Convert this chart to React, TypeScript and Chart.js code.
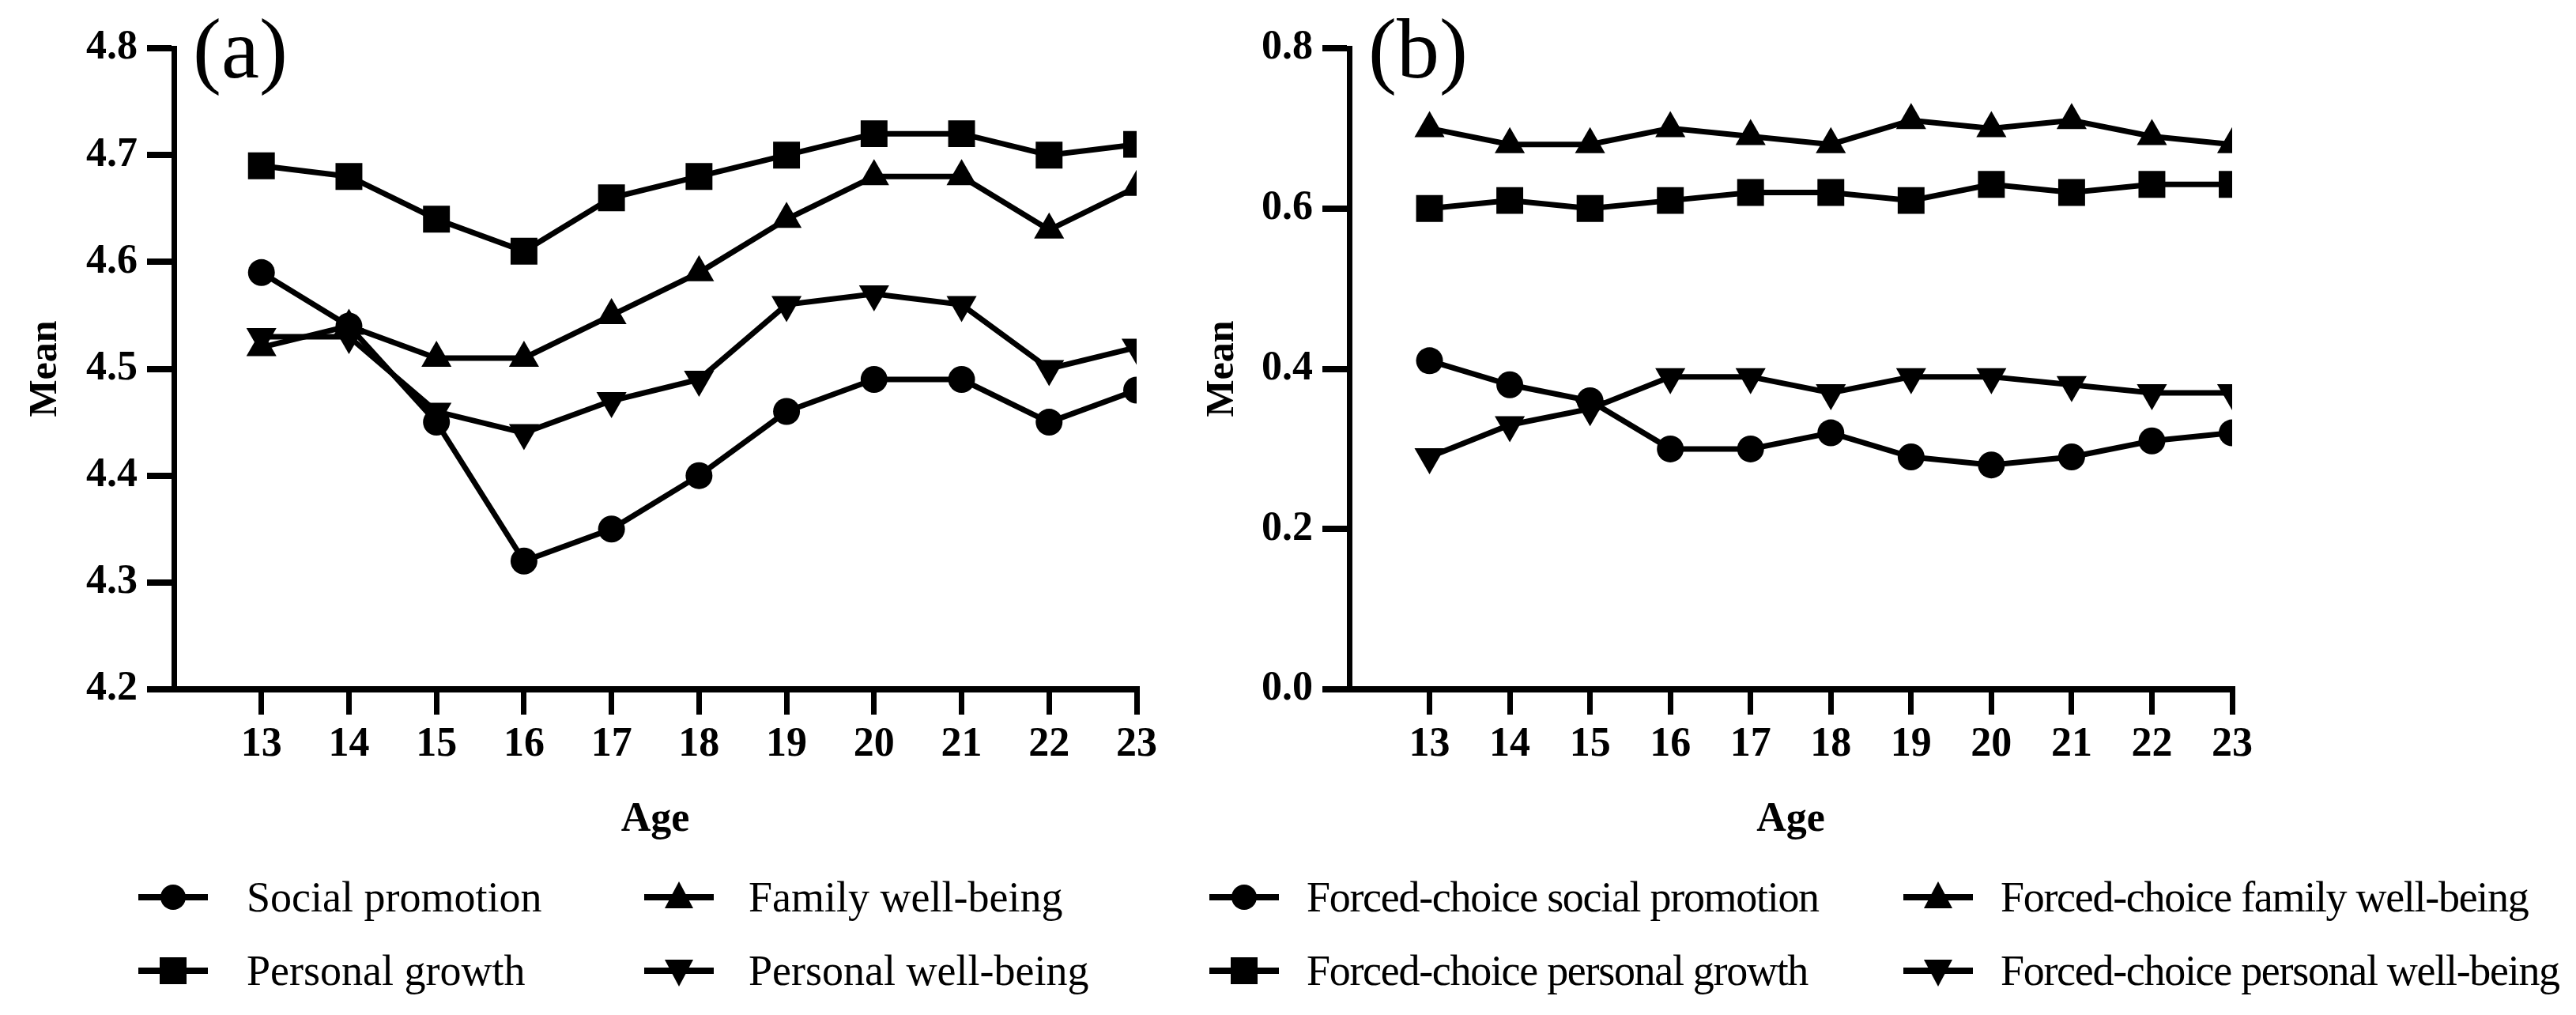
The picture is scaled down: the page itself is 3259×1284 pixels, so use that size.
import React, { useEffect, useRef } from "react";
import { Chart, registerables } from "chart.js";

Chart.register(...registerables);

const ages = [13, 14, 15, 16, 17, 18, 19, 20, 21, 22, 23];

// Panel (a)
const socialPromotion = [4.59, 4.54, 4.45, 4.32, 4.35, 4.4, 4.46, 4.49, 4.49, 4.45, 4.48];
const familyWellBeing = [4.52, 4.54, 4.51, 4.51, 4.55, 4.59, 4.64, 4.68, 4.68, 4.63, 4.67];
const personalGrowth = [4.69, 4.68, 4.64, 4.61, 4.66, 4.68, 4.7, 4.72, 4.72, 4.7, 4.71];
const personalWellBeing = [4.53, 4.53, 4.46, 4.44, 4.47, 4.49, 4.56, 4.57, 4.56, 4.5, 4.52];

// Panel (b)
const fcSocialPromotion = [0.41, 0.38, 0.36, 0.3, 0.3, 0.32, 0.29, 0.28, 0.29, 0.31, 0.32];
const fcFamilyWellBeing = [0.7, 0.68, 0.68, 0.7, 0.69, 0.68, 0.71, 0.7, 0.71, 0.69, 0.68];
const fcPersonalGrowth = [0.6, 0.61, 0.6, 0.61, 0.62, 0.62, 0.61, 0.63, 0.62, 0.63, 0.63];
const fcPersonalWellBeing = [0.29, 0.33, 0.35, 0.39, 0.39, 0.37, 0.39, 0.39, 0.38, 0.37, 0.37];

const namesA = ["Social promotion", "Family well-being", "Personal growth", "Personal well-being"];
const namesB = [
  "Forced-choice social promotion",
  "Forced-choice family well-being",
  "Forced-choice personal growth",
  "Forced-choice personal well-being",
];

type Marker = "circle" | "up" | "square" | "down";
const markers: Marker[] = ["circle", "up", "square", "down"];

const SERIF = '"Liberation Serif", "Times New Roman", serif';

function markerStyle(m: Marker) {
  if (m === "circle") return { pointStyle: "circle", pointRadius: 17, pointRotation: 0 };
  if (m === "square") return { pointStyle: "rect", pointRadius: 24, pointRotation: 0 };
  if (m === "up") return { pointStyle: "triangle", pointRadius: 22, pointRotation: 0 };
  return { pointStyle: "triangle", pointRadius: 22, pointRotation: 180 };
}

function makeDataset(label: string, values: number[], m: Marker) {
  return {
    label,
    data: ages.map((a, i) => ({ x: a, y: values[i] })),
    borderColor: "#000",
    backgroundColor: "#000",
    borderWidth: 7,
    pointBorderWidth: 0,
    pointBackgroundColor: "#000",
    ...markerStyle(m),
  };
}

const panelLabel = {
  id: "panelLabel",
  afterDraw(chart: any, _args: any, opts: any) {
    const ctx = chart.ctx;
    ctx.save();
    ctx.font = `108px ${SERIF}`;
    ctx.fillStyle = "#000";
    ctx.textBaseline = "alphabetic";
    ctx.textAlign = "left";
    ctx.fillText(opts.text, chart.chartArea.left + opts.dx, opts.y);
    ctx.restore();
  },
};

function buildConfig(opts: {
  datasets: any[];
  yMin: number;
  yMax: number;
  yStep: number;
  yWidth: number;
  padRight: number;
  titlePad: number;
  label: string;
}) {
  return {
    type: "line" as const,
    data: { datasets: opts.datasets },
    plugins: [panelLabel],
    options: {
      animation: false,
      responsive: false,
      devicePixelRatio: 1,
      layout: { padding: { top: 61, right: opts.padRight, left: 0, bottom: 0 } },
      plugins: {
        legend: { display: false },
        tooltip: { enabled: false },
        panelLabel: { text: opts.label, dx: 24, y: 98 },
      },
      scales: {
        x: {
          type: "linear",
          min: 12,
          max: 23,
          afterBuildTicks: (s: any) => {
            s.ticks = ages.map((a) => ({ value: a }));
          },
          afterFit: (s: any) => {
            s.height = 208;
          },
          ticks: {
            stepSize: 1,
            padding: 7,
            color: "#000",
            font: { family: SERIF, size: 52, weight: "bold" },
            maxRotation: 0,
            autoSkip: false,
          },
          grid: {
            drawOnChartArea: false,
            drawTicks: true,
            tickLength: 32,
            tickWidth: 7,
            tickColor: "#000",
            color: "#000",
            lineWidth: 7,
          },
          border: { display: true, color: "#000", width: 8 },
          title: {
            display: true,
            text: "Age",
            color: "#000",
            font: { family: SERIF, size: 52, weight: "bold" },
            padding: { top: 0, bottom: 11 },
          },
        },
        y: {
          type: "linear",
          min: opts.yMin,
          max: opts.yMax,
          afterFit: (s: any) => {
            s.width = opts.yWidth;
          },
          ticks: {
            stepSize: opts.yStep,
            padding: 12,
            color: "#000",
            font: { family: SERIF, size: 52, weight: "bold" },
            callback: (v: any) => Number(v).toFixed(1),
          },
          grid: {
            drawOnChartArea: false,
            drawTicks: true,
            tickLength: 34,
            tickWidth: 8,
            tickColor: "#000",
            color: "#000",
            lineWidth: 8,
          },
          border: { display: true, color: "#000", width: 7 },
          title: {
            display: true,
            text: "Mean",
            color: "#000",
            font: { family: SERIF, size: 50, weight: "bold" },
            padding: { top: opts.titlePad, bottom: 0 },
          },
        },
      },
    },
  };
}

function LegendMarker({ m }: { m: Marker }) {
  const cx = 44;
  const cy = 22;
  let shape: React.ReactNode = null;
  if (m === "circle") shape = <circle cx={cx} cy={cy} r={16} fill="#000" />;
  if (m === "square") shape = <rect x={cx - 17} y={cy - 17} width={34} height={34} fill="#000" />;
  if (m === "up")
    shape = <polygon points={`${cx},${cy - 20} ${cx + 18},${cy + 14} ${cx - 18},${cy + 14}`} fill="#000" />;
  if (m === "down")
    shape = <polygon points={`${cx},${cy + 20} ${cx + 18},${cy - 14} ${cx - 18},${cy - 14}`} fill="#000" />;
  return (
    <svg width={88} height={44} style={{ display: "block" }}>
      <line x1={0} y1={cy} x2={88} y2={cy} stroke="#000" strokeWidth={8} />
      {shape}
    </svg>
  );
}

function LegendItem({ name, m, markerLeft, textLeft, cy, spacing }: any) {
  return (
    <>
      <div style={{ position: "absolute", left: markerLeft, top: cy - 22 }}>
        <LegendMarker m={m} />
      </div>
      <div
        style={{
          position: "absolute",
          left: textLeft,
          top: cy - 40,
          height: 80,
          display: "flex",
          alignItems: "center",
          fontFamily: SERIF,
          fontSize: 54,
          letterSpacing: spacing,
          whiteSpace: "nowrap",
          color: "#000",
        }}
      >
        {name}
      </div>
    </>
  );
}

export default function App() {
  const refA = useRef<HTMLCanvasElement>(null);
  const refB = useRef<HTMLCanvasElement>(null);

  useEffect(() => {
    const seriesA = [socialPromotion, familyWellBeing, personalGrowth, personalWellBeing];
    const seriesB = [fcSocialPromotion, fcFamilyWellBeing, fcPersonalGrowth, fcPersonalWellBeing];
    const chartA = new Chart(
      refA.current as HTMLCanvasElement,
      buildConfig({
        datasets: namesA.map((n, i) => makeDataset(n, seriesA[i], markers[i])),
        yMin: 4.2,
        yMax: 4.8,
        yStep: 0.1,
        yWidth: 220,
        padRight: 62,
        titlePad: 28,
        label: "(a)",
      }) as any
    );
    const chartB = new Chart(
      refB.current as HTMLCanvasElement,
      buildConfig({
        datasets: namesB.map((n, i) => makeDataset(n, seriesB[i], markers[i])),
        yMin: 0,
        yMax: 0.8,
        yStep: 0.2,
        yWidth: 207,
        padRight: 76,
        titlePad: 17,
        label: "(b)",
      }) as any
    );
    return () => {
      chartA.destroy();
      chartB.destroy();
    };
  }, []);

  const rows = [1135, 1228];
  const colsA = [
    { markerLeft: 175, textLeft: 312 },
    { markerLeft: 815, textLeft: 947 },
  ];
  const colsB = [
    { markerLeft: 1530, textLeft: 1653 },
    { markerLeft: 2408, textLeft: 2531 },
  ];

  return (
    <div
      style={{
        position: "fixed",
        left: 0,
        top: 0,
        width: 3259,
        height: 1284,
        background: "#fff",
        overflow: "hidden",
      }}
    >
      <canvas
        ref={refA}
        width={1500}
        height={1080}
        style={{ position: "absolute", left: 0, top: 0, width: 1500, height: 1080 }}
      />
      <canvas
        ref={refB}
        width={1400}
        height={1080}
        style={{ position: "absolute", left: 1500, top: 0, width: 1400, height: 1080 }}
      />
      {namesA.map((n, i) => (
        <LegendItem
          key={n}
          name={n}
          m={markers[i]}
          markerLeft={colsA[i % 2].markerLeft}
          textLeft={colsA[i % 2].textLeft}
          cy={rows[Math.floor(i / 2)]}
          spacing={0}
        />
      ))}
      {namesB.map((n, i) => (
        <LegendItem
          key={n}
          name={n}
          m={markers[i]}
          markerLeft={colsB[i % 2].markerLeft}
          textLeft={colsB[i % 2].textLeft}
          cy={rows[Math.floor(i / 2)]}
          spacing={-1.3}
        />
      ))}
    </div>
  );
}
